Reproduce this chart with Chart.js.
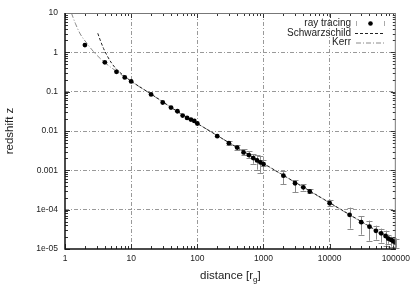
<!DOCTYPE html>
<html><head><meta charset="utf-8">
<script src="https://cdn.jsdelivr.net/npm/chart.js@4/dist/chart.umd.min.js"></script>
<style>html,body{margin:0;padding:0;background:#fff}#wrap{width:415px;height:291px}</style>
</head><body><div id="wrap"><canvas id="c" width="415" height="291"></canvas></div>
<script>
// ---- data ----
const distance = [2, 4, 6, 8, 10, 20, 30, 40, 50, 60, 70, 80, 90, 100, 200, 300, 400, 500, 600, 700, 800, 900, 1000, 2000, 3000, 4000, 5000, 10000, 20000, 30000, 40000, 50000, 60000, 70000, 77000, 85000, 92000, 100000];
const redshift = [1.53, 0.556, 0.32, 0.23, 0.182, 0.085, 0.053, 0.0395, 0.0318, 0.0247, 0.0215, 0.0195, 0.018, 0.0155, 0.0074, 0.0049, 0.0038, 0.00286, 0.00244, 0.00205, 0.00179, 0.00159, 0.00144, 0.00073, 0.00047, 0.00037, 0.00029, 0.000146, 7.4e-5, 4.8e-5, 3.7e-5, 2.9e-5, 2.5e-5, 2.14e-5, 1.83e-5, 1.7e-5, 1.56e-5, 1.45e-5];
const errLow  = [null, null, null, null, null, null, null, null, null, null, null, null, null, null, null, 4.32e-3, 3.22e-3, 2.40e-3, 2.01e-3, 1.47e-3, 1.04e-3, 8.69e-4, 1.26e-3, 4.37e-4, 2.78e-4, 3.07e-4, 2.58e-4, 1.27e-4, 3.3e-5, 2.32e-5, 1.62e-5, 1.73e-5, 1.45e-5, 1.21e-5, 1.36e-5, 1.15e-5, 1.1e-5, 1.08e-5];
const errHigh = [null, null, null, null, null, null, null, null, null, null, null, null, null, null, null, 5.46e-3, 4.32e-3, 3.41e-3, 3.09e-3, 2.59e-3, 2.40e-3, 2.26e-3, 1.79e-3, 9.55e-4, 5.52e-4, 4.37e-4, 3.26e-4, 1.78e-4, 1.13e-4, 6.9e-5, 5.27e-5, 3.93e-5, 3.3e-5, 2.93e-5, 2.32e-5, 2.06e-5, 1.95e-5, 1.83e-5];
const schwDist = [3.13, 3.4, 3.82, 4.28, 5.09, 6.05, 8, 10, 20, 50, 100, 1000, 10000, 100000];
const schwZ    = [3.05, 2.06, 1.26, 0.853, 0.525, 0.368, 0.245, 0.185, 0.087, 0.0315, 0.0155, 0.0015, 1.5e-4, 1.5e-5];
const kerrDist = [1.25, 1.43, 1.7, 2.14, 2.7, 3.6, 4.8, 6, 8, 10, 20, 50, 100, 1000, 10000, 100000];
const kerrZ    = [10, 5.5, 2.93, 1.70, 1.04, 0.64, 0.43, 0.33, 0.235, 0.182, 0.086, 0.031, 0.0155, 0.00148, 1.48e-4, 1.45e-5];
const xTicks = [1, 10, 100, 1000, 10000, 100000];
const xTickLabels = ['1', '10', '100', '1000', '10000', '100000'];
const yTicks = [1e-5, 1e-4, 0.001, 0.01, 0.1, 1, 10];
const yTickLabels = ['1e-05', '1e-04', '0.001', '0.01', '0.1', '1', '10'];
const seriesNames = ['ray tracing', 'Schwarzschild', 'Kerr'];
const xTitle = ['distance [r', 'g', ']'];
const yTitle = 'redshift z';

const FONT = "'Liberation Sans', Arial, Helvetica, sans-serif";
Chart.defaults.font.family = FONT;
Chart.defaults.color = '#222';

const pts = (xs, ys) => xs.map((x, i) => ({x: x, y: ys[i]}));

const errorBars = {
  id: 'errorBars',
  beforeDatasetsDraw(chart) {
    const {ctx, scales: {x, y}} = chart;
    ctx.save();
    ctx.strokeStyle = '#8c8c8c';
    ctx.lineWidth = 1;
    distance.forEach((d, i) => {
      if (errLow[i] == null) return;
      const px = Math.round(x.getPixelForValue(d)) + 0.5;
      const yl = y.getPixelForValue(errLow[i]);
      const yh = y.getPixelForValue(errHigh[i]);
      ctx.beginPath();
      ctx.moveTo(px, yl); ctx.lineTo(px, yh);
      ctx.moveTo(px - 3, Math.round(yl) + 0.5); ctx.lineTo(px + 3, Math.round(yl) + 0.5);
      ctx.moveTo(px - 3, Math.round(yh) + 0.5); ctx.lineTo(px + 3, Math.round(yh) + 0.5);
      ctx.stroke();
    });
    ctx.restore();
  }
};

const frame = {
  id: 'frame',
  afterDraw(chart) {
    const {ctx, chartArea: a, scales: {x, y}} = chart;
    ctx.save();
    ctx.strokeStyle = '#333';
    ctx.lineWidth = 1;
    ctx.beginPath();
    for (let k = 0; k < 5; k++) {
      for (let m = 1; m < 10; m++) {
        const v = m * Math.pow(10, k);
        const p = Math.round(x.getPixelForValue(v)) + 0.5;
        const len = m === 1 ? 5 : 3;
        ctx.moveTo(p, a.bottom); ctx.lineTo(p, a.bottom - len);
        ctx.moveTo(p, a.top); ctx.lineTo(p, a.top + len);
      }
    }
    for (let k = -5; k < 1; k++) {
      for (let m = 1; m < 10; m++) {
        const v = m * Math.pow(10, k);
        const p = Math.round(y.getPixelForValue(v)) + 0.5;
        const len = m === 1 ? 5 : 3;
        ctx.moveTo(a.left, p); ctx.lineTo(a.left + len, p);
        ctx.moveTo(a.right, p); ctx.lineTo(a.right - len, p);
      }
    }
    ctx.stroke();
    ctx.strokeStyle = '#777';
    ctx.lineWidth = 1;
    ctx.beginPath();
    ctx.moveTo(a.left, a.top + 0.5); ctx.lineTo(a.right, a.top + 0.5);
    ctx.moveTo(a.right - 0.5, a.top); ctx.lineTo(a.right - 0.5, a.bottom);
    ctx.stroke();
    ctx.strokeStyle = '#111';
    ctx.lineWidth = 1.5;
    ctx.beginPath();
    ctx.moveTo(a.left, a.top); ctx.lineTo(a.left, a.bottom); ctx.lineTo(a.right, a.bottom);
    ctx.stroke();

    // legend
    ctx.font = '10px ' + FONT;
    ctx.fillStyle = '#222';
    ctx.textAlign = 'right';
    ctx.textBaseline = 'middle';
    const rows = [23.5, 33, 42.5];
    seriesNames.forEach((n, i) => ctx.fillText(n, 351, rows[i]));
    ctx.strokeStyle = '#aaa'; ctx.lineWidth = 1;
    ctx.beginPath();
    ctx.moveTo(356.5, rows[0] - 2.5); ctx.lineTo(356.5, rows[0] + 2.5);
    ctx.moveTo(384.5, rows[0] - 2.5); ctx.lineTo(384.5, rows[0] + 2.5);
    ctx.stroke();
    ctx.fillStyle = '#000';
    ctx.beginPath(); ctx.arc(370.5, rows[0], 2.3, 0, Math.PI * 2); ctx.fill();
    ctx.strokeStyle = '#222'; ctx.setLineDash([3, 2]);
    ctx.beginPath(); ctx.moveTo(355, rows[1] + 0.5); ctx.lineTo(385, rows[1] + 0.5); ctx.stroke();
    ctx.strokeStyle = '#8a8a8a'; ctx.setLineDash([5, 2, 1, 2]);
    ctx.beginPath(); ctx.moveTo(356, rows[2] + 0.5); ctx.lineTo(384, rows[2] + 0.5); ctx.stroke();
    ctx.setLineDash([]);

    // x title with subscript
    ctx.fillStyle = '#222';
    ctx.textAlign = 'left';
    ctx.textBaseline = 'alphabetic';
    const big = '11.5px ' + FONT, small = '8px ' + FONT;
    ctx.font = big; const w1 = ctx.measureText(xTitle[0]).width; const w3 = ctx.measureText(xTitle[2]).width;
    ctx.font = small; const w2 = ctx.measureText(xTitle[1]).width;
    const cx = (a.left + a.right) / 2;
    let sx = cx - (w1 + w2 + w3) / 2;
    const base = 279;
    ctx.font = big; ctx.fillText(xTitle[0], sx, base); sx += w1;
    ctx.font = small; ctx.fillText(xTitle[1], sx, base + 3); sx += w2;
    ctx.font = big; ctx.fillText(xTitle[2], sx, base);
    ctx.restore();
  }
};

const gridColor = (n) => (c) => (c.index === 0 || c.index === n - 1) ? 'rgba(0,0,0,0)' : '#999';

new Chart(document.getElementById('c'), {
  type: 'scatter',
  data: {
    datasets: [
      {label: seriesNames[0], data: pts(distance, redshift), showLine: false,
       pointRadius: 2.4, pointHoverRadius: 2.4, backgroundColor: '#000', borderColor: '#000', borderWidth: 0, order: 0},
      {label: seriesNames[1], data: pts(schwDist, schwZ), showLine: true, pointRadius: 0,
       borderColor: '#222', borderWidth: 1, borderDash: [3, 2], cubicInterpolationMode: 'monotone', order: 1},
      {label: seriesNames[2], data: pts(kerrDist, kerrZ), showLine: true, pointRadius: 0,
       borderColor: '#8a8a8a', borderWidth: 1, borderDash: [5, 2, 1, 2], cubicInterpolationMode: 'monotone', order: 2}
    ]
  },
  options: {
    responsive: false, animation: false, devicePixelRatio: 1,
    layout: {padding: {left: 0, right: 18, top: 13, bottom: 0}},
    plugins: {legend: {display: false}, tooltip: {enabled: false}},
    scales: {
      x: {
        type: 'logarithmic', min: 1, max: 100000,
        afterBuildTicks: (s) => { s.ticks = xTicks.map(v => ({value: v, major: true})); },
        afterFit: (s) => { s.height = 42; },
        ticks: {autoSkip: false, maxRotation: 0, padding: 5, font: {size: 8.5}, color: '#222',
                callback: (v, i) => xTickLabels[i]},
        grid: {color: gridColor(xTicks.length), lineWidth: 1, drawTicks: false},
        border: {display: false, dash: [4, 2, 1, 2]},
        title: {display: false}
      },
      y: {
        type: 'logarithmic', min: 1e-5, max: 10,
        afterBuildTicks: (s) => { s.ticks = yTicks.map(v => ({value: v, major: true})); },
        afterFit: (s) => { s.width = 65; },
        ticks: {autoSkip: false, padding: 7, font: {size: 8.5}, color: '#222',
                callback: (v, i) => yTickLabels[i]},
        grid: {color: gridColor(yTicks.length), lineWidth: 1, drawTicks: false},
        border: {display: false, dash: [4, 2, 1, 2]},
        title: {display: true, text: yTitle, font: {size: 11.5}, color: '#222', padding: {top: 3, bottom: 0}}
      }
    }
  },
  plugins: [errorBars, frame]
});
</script>
</body></html>
